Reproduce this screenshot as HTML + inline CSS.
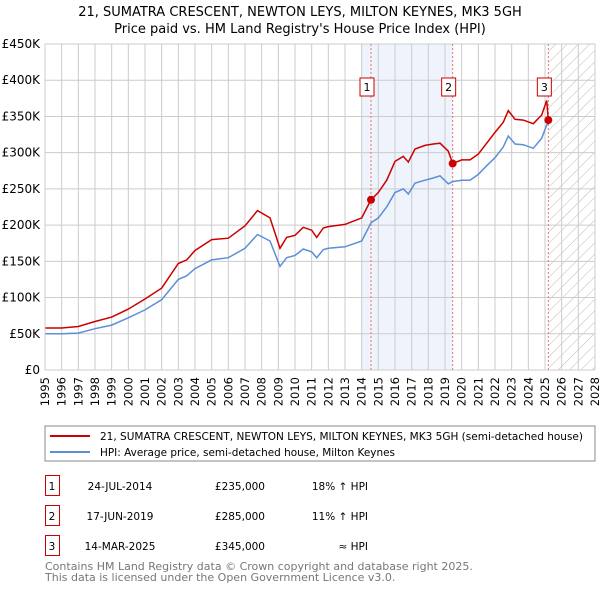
<!DOCTYPE html>
<html><head><meta charset="utf-8"><style>
body{margin:0;background:#fff;font-family:"DejaVu Sans","Liberation Sans",sans-serif;}
svg text{font-family:"DejaVu Sans","Liberation Sans",sans-serif;}
</style></head><body>
<svg id="c" width="600" height="590" xmlns="http://www.w3.org/2000/svg">
<defs><pattern id="hatch" width="8" height="8" patternUnits="userSpaceOnUse" patternTransform="rotate(45)"><line x1="0" y1="0" x2="0" y2="8" stroke="#bbb" stroke-width="1"/></pattern></defs>
<text x="300" y="16" text-anchor="middle" font-size="13">21, SUMATRA CRESCENT, NEWTON LEYS, MILTON KEYNES, MK3 5GH</text>
<text x="300" y="33" text-anchor="middle" font-size="13">Price paid vs. HM Land Registry's House Price Index (HPI)</text>
<g id="plot"></g>
<rect x="45" y="426" width="550" height="35" fill="#fff" stroke="#888"/>
<line x1="50" y1="436" x2="90" y2="436" stroke="#cc0000" stroke-width="2"/>
<text x="100" y="440" font-size="10.5" textLength="483" lengthAdjust="spacingAndGlyphs">21, SUMATRA CRESCENT, NEWTON LEYS, MILTON KEYNES, MK3 5GH (semi-detached house)</text>
<line x1="50" y1="452" x2="90" y2="452" stroke="#5b8fd6" stroke-width="2"/>
<text x="100" y="456" font-size="10.5" textLength="295" lengthAdjust="spacingAndGlyphs">HPI: Average price, semi-detached house, Milton Keynes</text>
<g font-size="10.5">
<rect x="45.5" y="475.5" width="14" height="20" fill="none" stroke="#cc0000"/><text x="52" y="490" text-anchor="middle">1</text>
<text x="120" y="490" text-anchor="middle">24-JUL-2014</text><text x="265" y="490" text-anchor="end">£235,000</text><text x="368" y="490" text-anchor="end">18% ↑ HPI</text>
<rect x="45.5" y="505.5" width="14" height="20" fill="none" stroke="#cc0000"/><text x="52" y="520" text-anchor="middle">2</text>
<text x="120" y="520" text-anchor="middle">17-JUN-2019</text><text x="265" y="520" text-anchor="end">£285,000</text><text x="368" y="520" text-anchor="end">11% ↑ HPI</text>
<rect x="45.5" y="535.5" width="14" height="20" fill="none" stroke="#cc0000"/><text x="52" y="550" text-anchor="middle">3</text>
<text x="120" y="550" text-anchor="middle">14-MAR-2025</text><text x="265" y="550" text-anchor="end">£345,000</text><text x="368" y="550" text-anchor="end">≈ HPI</text>
</g>
<text x="45" y="570" font-size="11" fill="#777">Contains HM Land Registry data © Crown copyright and database right 2025.</text>
<text x="45" y="581" font-size="11" fill="#777">This data is licensed under the Open Government Licence v3.0.</text>
</svg>
<script>
const dates=[1995,1996,1997,1998,1999,2000,2001,2002,2003,2003.5,2004,2005,2006,2007,2007.75,2008.5,2009.1,2009.5,2010,2010.5,2011,2011.3,2011.7,2012,2013,2014,2014.56,2015,2015.5,2016,2016.5,2016.8,2017.2,2017.8,2018.3,2018.7,2019.2,2019.46,2020,2020.5,2021,2021.5,2022,2022.5,2022.8,2023.2,2023.7,2024.3,2024.8,2025.1,2025.2];
const hpi=[50,50,51,57,62,72,83,97,125,130,140,152,155,168,187,178,143,155,158,167,163,155,166,168,170,178,203,210,225,245,250,243,258,262,265,268,257,260,262,262,270,282,293,308,323,312,311,306,320,338,342];
const red=[58,58,60,67,73,84,98,113,147,152,165,180,182,199,220,210,168,183,186,197,193,183,196,198,201,210,235,245,262,288,295,287,305,310,312,313,302,285,290,290,298,313,328,342,358,346,345,340,352,372,345];
const saleDates=[2014.56,2019.46,2025.2];
const salePrices=[235,285,345];
const saleLabels=["1","2","3"];
const yTicks=[0,50,100,150,200,250,300,350,400,450];
const yTickLabels=["£0","£50K","£100K","£150K","£200K","£250K","£300K","£350K","£400K","£450K"];
const xTicks=[];for(let y=1995;y<=2028;y++)xTicks.push(y);
const L=45,R=595,T=44,B=370;
const X=d=>L+(d-1995)/(2028-1995)*(R-L);
const Y=v=>B-v/450*(B-T);
const ns="http://www.w3.org/2000/svg";
const g=document.getElementById('plot');
function mk(t,a,p){const e=document.createElementNS(ns,t);for(const k in a)e.setAttribute(k,a[k]);(p||g).appendChild(e);return e;}
let e;
e=mk('rect',{x:X(2014),y:T,width:X(saleDates[1])-X(2014),height:B-T,fill:'#eef3fc'});


e=mk('rect',{x:X(saleDates[2]),y:T,width:R-X(saleDates[2]),height:B-T,fill:'url(#hatch)'});


xTicks.forEach(d=>{
 e=mk('line',{x1:X(d),x2:X(d),y1:T,y2:B,stroke:'#ccc'});
 
 
 const x=X(d)+4,y=377;
 e=mk('text',{x:x,y:y,'font-size':11.5,'text-anchor':'end',transform:`rotate(-90 ${x} ${y})`});
 e.textContent=d;
 
 
});
yTicks.forEach((v,i)=>{
 e=mk('line',{x1:L,x2:R,y1:Y(v),y2:Y(v),stroke:'#ccc'});
 
 
 e=mk('text',{x:L-5,y:Y(v)+4,'font-size':12,'text-anchor':'end'});
 e.textContent=yTickLabels[i];
 
 
});
saleDates.forEach((d,i)=>{
 e=mk('line',{x1:X(d),x2:X(d),y1:T,y2:B,stroke:'#f07070','stroke-dasharray':'2,2'});
 
 
 e=mk('rect',{x:X(d)-11,y:78,width:14,height:18,fill:'#fff',stroke:'#cc0000'});
 
 
 e=mk('text',{x:X(d)-4,y:91,'font-size':11,'text-anchor':'middle'});
 e.textContent=saleLabels[i];
 
 
});
function pts(arr){return dates.map((d,i)=>X(d).toFixed(1)+','+Y(arr[i]).toFixed(1)).join(' ');}
e=mk('polyline',{points:pts(hpi),fill:'none',stroke:'#5b8fd6','stroke-width':1.5});


e=mk('polyline',{points:pts(red),fill:'none',stroke:'#cc0000','stroke-width':1.5});


saleDates.forEach((d,i)=>{
 e=mk('circle',{cx:X(d),cy:Y(salePrices[i]),r:4,fill:'#cc0000'});
 
 
});
e=mk('line',{x1:L,x2:L,y1:T,y2:B,stroke:'#ccc'});


</script>
</body></html>
